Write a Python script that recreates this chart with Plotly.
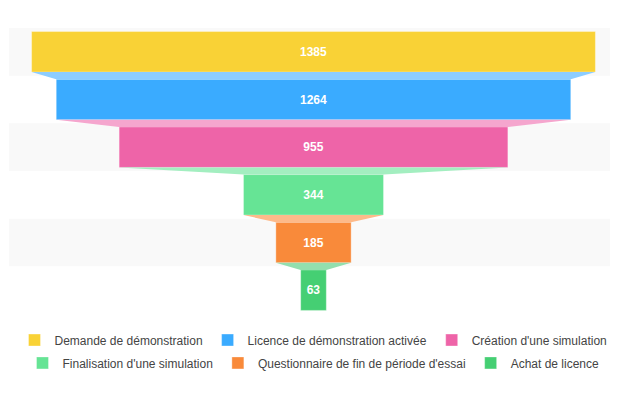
import plotly.graph_objects as go

stages = [
    "Demande de démonstration",
    "Licence de démonstration activée",
    "Création d'une simulation",
    "Finalisation d'une simulation",
    "Questionnaire de fin de période d'essai",
    "Achat de licence",
]
values = [1385, 1264, 955, 344, 185, 63]

bar_colors = ["#F9D236", "#3AABFF", "#EE64A8", "#66E495", "#F98A3A", "#45CF73"]
connector_colors = ["#8DCDFF", "#F5A6CE", "#A3EEC0", "#FDBA8A", "#93DFAE"]
band_color = "#F9F9F9"

BAR_H = 0.85
FONT = "Liberation Sans, Arial, sans-serif"

fig = go.Figure()

# connectors between consecutive stages (coloured after the next stage)
for i in range(len(values) - 1):
    top = i + BAR_H / 2
    bot = i + 1 - BAR_H / 2
    v0, v1 = values[i], values[i + 1]
    fig.add_trace(go.Scatter(
        x=[-v0 / 2, v0 / 2, v1 / 2, -v1 / 2, -v0 / 2],
        y=[top, top, bot, bot, top],
        mode="lines", fill="toself", fillcolor=connector_colors[i],
        line=dict(width=0, color=connector_colors[i]),
        showlegend=False, hoverinfo="skip",
    ))

for i, (s, v, c) in enumerate(zip(stages, values, bar_colors)):
    fig.add_trace(go.Funnel(
        y=[i], x=[v], name=s, width=BAR_H,
        legend="legend" if i < 3 else "legend2",
        marker=dict(color=c, line=dict(color="rgba(255,255,255,0.35)", width=1)),
        textinfo="value", textposition="inside", insidetextanchor="middle",
        textfont=dict(color="white", size=12, family=FONT, weight="bold"),
        connector=dict(visible=False),
        hovertemplate=s + ": %{x}<extra></extra>",
    ))

shapes = []
for i in range(0, len(stages), 2):
    shapes.append(dict(type="rect", xref="paper", x0=0, x1=1, yref="y",
                       y0=i - 0.5, y1=i + 0.5, fillcolor=band_color,
                       line=dict(width=0), layer="below"))

legend_style = dict(orientation="h", x=0.5, xanchor="center",
                    yanchor="middle",
                    font=dict(size=12, color="#444", family=FONT),
                    traceorder="normal", bgcolor="rgba(0,0,0,0)")

fig.update_layout(
    width=610, height=390,
    margin=dict(l=1, r=0, t=20, b=84, autoexpand=False),
    paper_bgcolor="white", plot_bgcolor="white",
    funnelmode="stack",
    shapes=shapes,
    xaxis=dict(range=[-748, 748], visible=False, fixedrange=True),
    yaxis=dict(range=[len(stages) - 0.5, -0.5], visible=False, fixedrange=True),
    legend=dict(legend_style, y=-0.091),
    legend2=dict(legend_style, y=-0.171),
    font=dict(family=FONT),
)

fig.write_html("out.html")
